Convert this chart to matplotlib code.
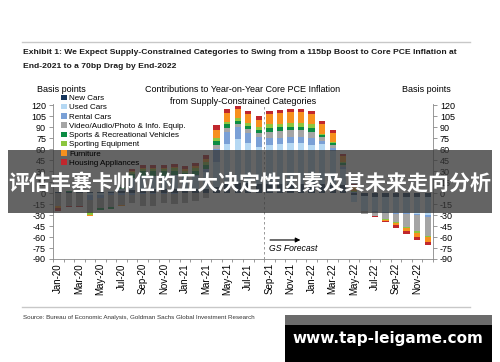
import numpy as np
import matplotlib
matplotlib.use("Agg")
import matplotlib.pyplot as plt
from matplotlib.patches import Rectangle, Patch
from matplotlib import font_manager

# ---- data (basis points, contributions to y/y core PCE) ----
months = ["Jan-20", "Feb-20", "Mar-20", "Apr-20", "May-20", "Jun-20", "Jul-20", "Aug-20", "Sep-20",
          "Oct-20", "Nov-20", "Dec-20", "Jan-21", "Feb-21", "Mar-21", "Apr-21", "May-21", "Jun-21",
          "Jul-21", "Aug-21", "Sep-21", "Oct-21", "Nov-21", "Dec-21", "Jan-22", "Feb-22", "Mar-22",
          "Apr-22", "May-22", "Jun-22", "Jul-22", "Aug-22", "Sep-22", "Oct-22", "Nov-22", "Dec-22"]

new_cars = [1, 1, 1, 1, 2, 2, 3, 5, 6, 6, 6, 6, 6, 6, 6, 8, 12, 14,
            14, 13, 13, 13, 13, 13, 12, 12, 11, 11, -3, -4, -5, -5, -5, -5, -5, -5]
used_cars = [0, 1, 1, -3, -2, 1, 3, 16, 18, 18, 18, 19, 16, 18, 23, 35, 55, 60,
             55, 50, 53, 54, 55, 55, 54, 55, 47, 22, -9, -20, -20, -21, -22, -22, -24, -25]
rental_cars = [0, 0, 0, -6, -4, -3, -3, -2, -1, -1, -1, -1, 0, 1, 4, 18, 17, 16,
               14, 14, 9, 9, 9, 9, 9, 5, 4, 3, 1, -1, -1, -1, -1, -1, -1, -2]
video_audio = [-18, -17, -17, -17, -14, -16, -13, -12, -17, -16, -13, -14, -14, -11, -7, 5, 5, 4,
               5, 5, 9, 9, 9, 9, 9, 5, 4, 3, 0, -3, -5, -8, -12, -18, -22, -26]
sports_rv = [1, 1, 1, 0, -3, -3, 2, 5, 6, 6, 6, 6, 6, 6, 6, 5, 5, 5,
             4, 4, 5, 5, 5, 5, 5, 2, 2, 2, 1, 0, 0, 0, 0, 0, 0, 0]
sporting_eq = [0, 0, 0, -4, 0, 0, 1, 3, 3, 3, 3, 3, 3, 3, 3, 4, 4, 4,
               4, 4, 5, 5, 5, 5, 5, 2, 2, 1, 1, 0, 0, -1, -1, -2, -2, -2]
furniture = [-2, -1, -1, -1, 0, 0, -2, 1, 2, 2, 2, 2, 2, 3, 5, 12, 12, 12,
             12, 10, 15, 15, 15, 15, 15, 14, 13, 9, 6, 0, 0, -2, -3, -4, -6, -7]
housing_app = [-4, -1, -1, 0, 0, 0, 0, 3, 4, 4, 4, 4, 4, 4, 5, 6, 5, 4,
               5, 5, 4, 4, 4, 4, 4, 4, 3, 3, 3, 0, -1, -1, -3, -4, -4, -4]

series_names = ["New Cars", "Used Cars", "Rental Cars", "Video/Audio/Photo & Info. Equip.",
                "Sports & Recreational Vehicles", "Sporting Equipment", "Furniture",
                "Housing Appliances"]
series = [new_cars, used_cars, rental_cars, video_audio, sports_rv, sporting_eq, furniture, housing_app]
colors = ["#16365c", "#b5d8f3", "#7aa0d6", "#a5a5a5", "#0b8c43", "#8cc63f", "#f7901e", "#c0272d"]
yticks = list(range(-90, 121, 15))

# fonts
names = {f.name for f in font_manager.fontManager.ttflist}
title_font = "Liberation Sans Narrow" if "Liberation Sans Narrow" in names else "Liberation Sans"
plt.rcParams["font.family"] = ["Liberation Sans", "DejaVu Sans"]

W, H = 500, 362
fig = plt.figure(figsize=(W / 100, H / 100), dpi=100)
renderer = fig.canvas.get_renderer()


def fx(px):
    return px / W


def fy(py):
    return 1 - py / H


def fit(t, width_px):
    # scale a text so it spans the given width in pixels
    w = t.get_window_extent(renderer).width
    t.set_fontsize(t.get_fontsize() * width_px / w)
    return t.get_fontsize()


# header / footer
fig.add_artist(plt.Line2D([fx(22), fx(470)], [fy(41.5), fy(41.5)], color="#c8c8c8", lw=1))
t1 = fig.text(fx(23), fy(53), "Exhibit 1: We Expect Supply-Constrained Categories to Swing from a 115bp Boost to Core PCE Inflation at",
              family=title_font, weight="bold", fontsize=6, va="center", color="#1a1a1a")
fs = fit(t1, 435)
fig.text(fx(23), fy(66), "End-2021 to a 70bp Drag by End-2022",
         family=title_font, weight="bold", fontsize=fs, va="center", color="#1a1a1a")
fig.add_artist(plt.Line2D([fx(22), fx(470)], [fy(307), fy(307)], color="#c8c8c8", lw=1))
ts = fig.text(fx(23), fy(317), "Source: Bureau of Economic Analysis, Goldman Sachs Global Investment Research",
              family=title_font, fontsize=5, va="center", color="#333333")
fit(ts, 237)

fig.text(fx(61), fy(90), "Basis points", fontsize=6.5, ha="center", va="center")
fig.text(fx(426), fy(90), "Basis points", fontsize=6.5, ha="center", va="center")
fig.text(fx(243), fy(90), "Contributions to Year-on-Year Core PCE Inflation", fontsize=6.5, ha="center", va="center")
fig.text(fx(243), fy(101.5), "from Supply-Constrained Categories", fontsize=6.5, ha="center", va="center")

# main axes
ax = fig.add_axes([fx(53), fy(259), fx(433) - fx(53), fy(104) - fy(259)])
x = np.arange(len(months))
pos_base = np.zeros(len(months))
neg_base = np.zeros(len(months))
for vals, col in zip(series, colors):
    v = np.array(vals, dtype=float)
    p = np.where(v > 0, v, 0)
    n = np.where(v < 0, v, 0)
    ax.bar(x, p, bottom=pos_base, width=0.6, color=col, linewidth=0)
    ax.bar(x, n, bottom=neg_base, width=0.6, color=col, linewidth=0)
    pos_base += p
    neg_base += n

ax.set_xlim(-0.5, len(months) - 0.5)
ax.set_ylim(-90, 122)
ax.set_yticks(yticks)
ax.set_yticklabels([str(t) for t in yticks])
ax.set_xticks(x[::2])
ax.set_xticklabels(months[::2], rotation=90)
ax.set_xticks(np.arange(-0.5, len(months), 1), minor=True)
ax.tick_params(axis="x", which="major", length=0, labelsize=7, pad=3)
ax.tick_params(axis="x", which="minor", length=2, color="#888888", width=0.6)
ax.tick_params(axis="y", which="major", length=3, color="#888888", width=0.6, labelsize=6.5,
               right=True, labelright=True, pad=2)
ax.spines["top"].set_visible(False)
for s in ["left", "right", "bottom"]:
    ax.spines[s].set_color("#888888")
    ax.spines[s].set_linewidth(0.6)

ax.axvline(19.5, color="#888888", lw=0.6, ls=(0, (3, 3)))
ax.annotate("", xy=(23.2, -64), xytext=(19.8, -64),
            arrowprops=dict(arrowstyle="-|>", color="black", lw=0.8, mutation_scale=7))
ax.text(20.0, -75, "GS Forecast", style="italic", fontsize=6.2, va="center", ha="left")

handles = [Patch(facecolor=c, edgecolor="none") for c in colors]
fig.legend(handles, series_names, loc="upper left", bbox_to_anchor=(fx(61), fy(94.5)),
           frameon=False, fontsize=5.8, handlelength=0.7, handleheight=0.7, handletextpad=0.3,
           labelspacing=0.2, borderaxespad=0, borderpad=0)

# overlay banner
fig.add_artist(Rectangle((fx(8), fy(213)), fx(492) - fx(8), fy(150) - fy(213), transform=fig.transFigure,
                         facecolor=(0.22, 0.22, 0.22), alpha=0.78, edgecolor="none", zorder=5))
tc = fig.text(0.5, fy(183), "评估丰塞卡帅位的五大决定性因素及其未来走向分析", color="white", fontsize=14.5,
              weight="bold", ha="center", va="center", family=["Noto Sans CJK SC", "DejaVu Sans"], zorder=6)
fit(tc, 482)

# watermark
fig.add_artist(Rectangle((fx(285), fy(325)), fx(492) - fx(285), fy(315) - fy(325), transform=fig.transFigure,
                         facecolor="#6b6b6b", edgecolor="none", zorder=5))
fig.add_artist(Rectangle((fx(285), 0), fx(492) - fx(285), fy(325), transform=fig.transFigure,
                         facecolor="black", edgecolor="none", zorder=5))
fig.text(fx(388), fy(339), "www.tap-leigame.com", color="white", fontsize=11, weight="bold",
         ha="center", va="center", family="DejaVu Sans", zorder=6)

fig.savefig("out.png", dpi=100)
